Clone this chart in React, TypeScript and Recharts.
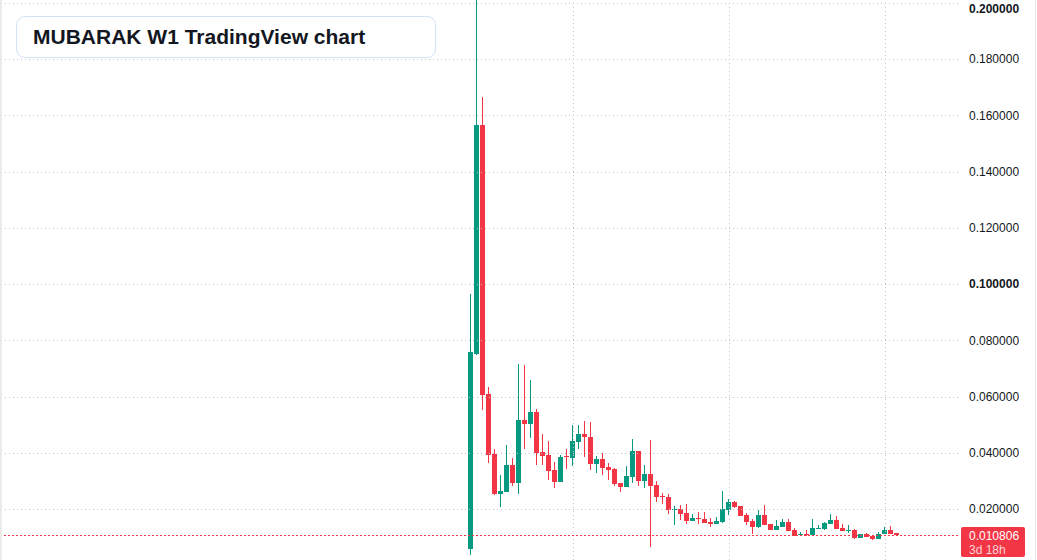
import { Bar, ComposedChart, ReferenceLine, XAxis, YAxis } from 'recharts';

// weekly candles (oldest first)
const opens = [
  0.00567, 0.0752, 0.1565, 0.0609, 0.0396, 0.0254, 0.0262, 0.0356, 0.0294, 0.0516,
  0.0502, 0.0545, 0.0403, 0.0392, 0.0339, 0.0296, 0.0387, 0.0381, 0.0439, 0.0468,
  0.0457, 0.0361, 0.0378, 0.0349, 0.0342, 0.0292, 0.0279, 0.0315, 0.0406, 0.0301,
  0.0324, 0.0285, 0.0245, 0.0243, 0.0198, 0.0199, 0.0186, 0.0157, 0.0168, 0.0164,
  0.0155, 0.0148, 0.0154, 0.0198, 0.0225, 0.0211, 0.0179, 0.0157, 0.0137, 0.0179,
  0.0147, 0.0126, 0.0137, 0.0154, 0.0125, 0.0109, 0.0112, 0.0109, 0.013, 0.013,
  0.0148, 0.0161, 0.0132, 0.0124, 0.0125, 0.0098, 0.0111, 0.0104, 0.0094, 0.0111,
  0.0125, 0.0115,
];
const highs = [
  0.0964, 0.24, 0.1665, 0.0634, 0.0413, 0.0321, 0.0428, 0.0381, 0.0716, 0.0712,
  0.0659, 0.0556, 0.0467, 0.0442, 0.0367, 0.0392, 0.0413, 0.0499, 0.0499, 0.0514,
  0.051, 0.039, 0.04, 0.0365, 0.0346, 0.0292, 0.0353, 0.0448, 0.0406, 0.0356,
  0.0444, 0.03, 0.0256, 0.0253, 0.0211, 0.0214, 0.0218, 0.0182, 0.0189, 0.0189,
  0.0168, 0.0172, 0.0264, 0.0236, 0.0227, 0.0211, 0.0186, 0.0164, 0.0196, 0.0214,
  0.0147, 0.0161, 0.0164, 0.0164, 0.0132, 0.0118, 0.0125, 0.0164, 0.0143, 0.0154,
  0.0182, 0.0175, 0.0147, 0.0143, 0.0129, 0.0111, 0.0115, 0.0104, 0.0118, 0.0136,
  0.014, 0.0115,
];
const lows = [
  0.00354, 0.0749, 0.0552, 0.0365, 0.025, 0.0207, 0.0262, 0.0283, 0.0254, 0.0413,
  0.0452, 0.0356, 0.0356, 0.0303, 0.0275, 0.0296, 0.0342, 0.0353, 0.0414, 0.0386,
  0.034, 0.0329, 0.0322, 0.0304, 0.0283, 0.0262, 0.0279, 0.0294, 0.0283, 0.0276,
  0.0066, 0.0226, 0.0219, 0.0183, 0.0144, 0.0161, 0.0148, 0.0157, 0.0147, 0.0151,
  0.0137, 0.0148, 0.015, 0.018, 0.0205, 0.0176, 0.0143, 0.0112, 0.0134, 0.0144,
  0.0126, 0.0126, 0.0137, 0.0123, 0.0105, 0.0105, 0.0105, 0.0109, 0.013, 0.0125,
  0.0148, 0.013, 0.0123, 0.0116, 0.0094, 0.0098, 0.0102, 0.0091, 0.0094, 0.0111,
  0.0111, 0.0105,
];
const closes = [
  0.0758, 0.1565, 0.0605, 0.0393, 0.0254, 0.0264, 0.0356, 0.0294, 0.0516, 0.0502,
  0.0545, 0.0399, 0.0388, 0.0335, 0.0296, 0.0385, 0.0384, 0.0442, 0.0468, 0.0455,
  0.0361, 0.0378, 0.0347, 0.034, 0.029, 0.0279, 0.0317, 0.0406, 0.0301, 0.0324,
  0.0283, 0.0244, 0.0243, 0.0198, 0.0199, 0.0183, 0.0157, 0.0168, 0.0166, 0.0151,
  0.0148, 0.0157, 0.02, 0.0225, 0.0208, 0.0176, 0.0154, 0.0137, 0.0179, 0.0144,
  0.0126, 0.014, 0.0154, 0.0123, 0.0105, 0.0111, 0.011, 0.0132, 0.0132, 0.015,
  0.0161, 0.013, 0.0123, 0.0126, 0.0098, 0.0111, 0.0102, 0.0094, 0.0111, 0.0125,
  0.0111, 0.010806,
];

const priceTicks = [0.02, 0.04, 0.06, 0.08, 0.1, 0.12, 0.14, 0.16, 0.18, 0.2];
const boldTicks = [0.1, 0.2];
const timeGridTicks = [17, 43, 69];
const lastPrice = 0.010806;
const countdown = '3d 18h';

const UP = '#089981';
const DOWN = '#f23645';
const GRID = '#c4c6cc';
const FONT = "'Liberation Sans', Arial, sans-serif";

const data = opens.map((o, i) => ({
  i,
  open: o,
  high: highs[i],
  low: lows[i],
  close: closes[i],
  range: [lows[i], highs[i]],
}));

function Candle(props: any) {
  const { x, y, width, height, payload } = props;
  const top = Math.min(y, y + height);
  const h = Math.abs(height);
  const span = payload.high - payload.low;
  const px = (v: number) => (span > 0 ? top + ((payload.high - v) / span) * h : top);
  const left = Math.round(x + width / 2 - 2.5);
  const color = payload.close >= payload.open ? UP : DOWN;
  const bTop = Math.round(px(Math.max(payload.open, payload.close)));
  const bBot = Math.round(px(Math.min(payload.open, payload.close)));
  const wTop = Math.round(top);
  const wBot = Math.round(top + h);
  return (
    <g shapeRendering="crispEdges">
      <rect x={left + 2} y={wTop} width={1} height={Math.max(wBot - wTop, 1)} fill={color} />
      <rect x={left} y={bTop} width={5} height={Math.max(bBot - bTop, 1)} fill={color} />
    </g>
  );
}

// dotted line snapped to the pixel grid
function DotLine(props: any) {
  const { x1, x2, y1, y2, color = GRID, dash = '1 3' } = props;
  const vertical = Math.abs(x1 - x2) < 0.01;
  const ax = vertical ? Math.round(x1) + 0.5 : x1;
  const bx = vertical ? Math.round(x2) + 0.5 : x2;
  const ay = vertical ? y1 : Math.round(y1) + 0.5;
  const by = vertical ? y2 : Math.round(y2) + 0.5;
  return (
    <line x1={ax} x2={bx} y1={ay} y2={by} stroke={color} strokeWidth={1} strokeDasharray={dash} />
  );
}

function PriceTick(props: any) {
  const { x, y, payload } = props;
  const bold = boldTicks.includes(payload.value);
  return (
    <text
      x={x}
      y={y}
      dy="0.36em"
      textAnchor="start"
      fontSize={12}
      fontFamily={FONT}
      fontWeight={bold ? 700 : 400}
      fill="#131722"
    >
      {payload.value.toFixed(6)}
    </text>
  );
}

function LastPriceLabel(props: any) {
  const { viewBox } = props;
  const bx = viewBox.x + viewBox.width + 3;
  const by = Math.round(viewBox.y) - 8;
  return (
    <g>
      <rect x={bx} y={by} width={64} height={30} rx={2} fill={DOWN} />
      <text x={bx + 8} y={by + 9} dy="0.36em" fontSize={12} fill="#ffffff" fontFamily={FONT}>
        {lastPrice.toFixed(6)}
      </text>
      <text x={bx + 8} y={by + 23} dy="0.36em" fontSize={12} fill="#fcd2d5" fontFamily={FONT}>
        {countdown}
      </text>
    </g>
  );
}

export default function App() {
  return (
    <div
      style={{
        position: 'absolute',
        left: 0,
        top: 0,
        width: 1037,
        height: 560,
        overflow: 'hidden',
        background: '#ffffff',
      }}
    >
      <ComposedChart
        width={1037}
        height={560}
        data={data}
        margin={{ top: 0, right: 0, bottom: 0, left: 0 }}
      >
        <XAxis
          dataKey="i"
          type="number"
          domain={[-78.55, 81.12]}
          allowDataOverflow
          tick={false}
          tickLine={false}
          axisLine={false}
          height={0}
        />
        <YAxis
          orientation="right"
          width={79}
          domain={[0.00187, 0.20098]}
          ticks={priceTicks}
          allowDataOverflow
          axisLine={false}
          tickLine={false}
          tickSize={0}
          tickMargin={11}
          tick={<PriceTick />}
        />
        {priceTicks.map((t) => (
          <ReferenceLine key={'h' + t} y={t} shape={<DotLine />} ifOverflow="visible" />
        ))}
        {timeGridTicks.map((t) => (
          <ReferenceLine key={'v' + t} x={t} shape={<DotLine />} />
        ))}
        <ReferenceLine
          y={lastPrice}
          shape={<DotLine color={DOWN} dash="2 2" />}
          label={<LastPriceLabel />}
        />
        <Bar dataKey="range" barSize={5} shape={<Candle />} isAnimationActive={false} />
      </ComposedChart>
      <div style={{ position: 'absolute', left: 0, top: 0, width: 2, height: 560, background: '#ebebeb' }} />
      <div style={{ position: 'absolute', left: 1035, top: 0, width: 1, height: 560, background: '#e6e7ea' }} />
      <div
        style={{
          position: 'absolute',
          left: 16,
          top: 16,
          width: 402,
          height: 40,
          paddingLeft: 16,
          border: '1px solid #d3e2f7',
          borderRadius: 9,
          background: '#ffffff',
          fontFamily: FONT,
          fontWeight: 700,
          fontSize: 21,
          lineHeight: '40px',
          color: '#131722',
        }}
      >
        MUBARAK W1 TradingView chart
      </div>
    </div>
  );
}
